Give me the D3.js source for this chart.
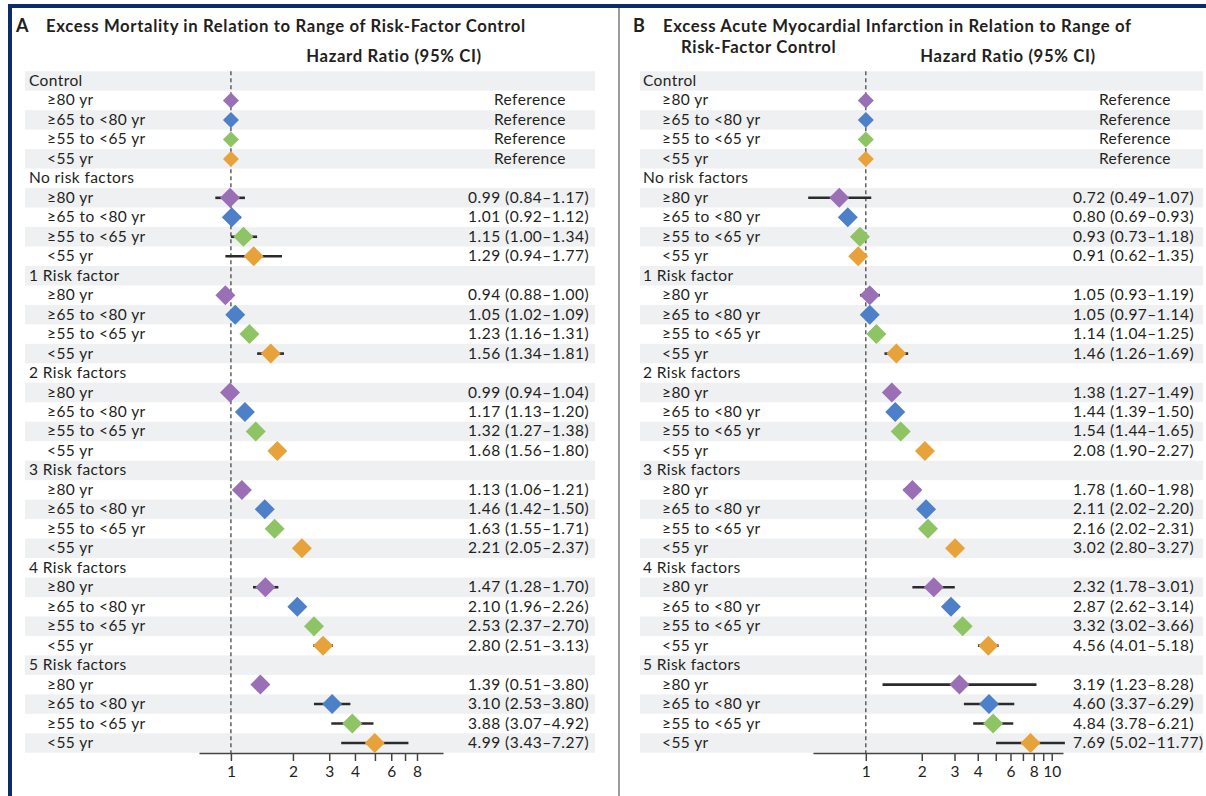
<!DOCTYPE html>
<html>
<head>
<meta charset="utf-8">
<script src="https://cdn.jsdelivr.net/npm/d3@7"></script>
<style>
  body { margin: 0; background: #fff; }
  svg { display: block; font-family: Lato, 'Noto Sans', sans-serif; }
</style>
</head>
<body>
<svg id="chart" width="1206" height="796"></svg>
<script>
// Data
const riskGroups = ['Control', 'No risk factors', '1 Risk factor', '2 Risk factors',
  '3 Risk factors', '4 Risk factors', '5 Risk factors'];
const ageGroups = ['≥80 yr', '≥65 to <80 yr', '≥55 to <65 yr', '<55 yr'];
const ageColors = ['#9b6fb6', '#4d80c8', '#8ec463', '#e8a23a'];

// panel A, hazard ratios per risk group (control = reference)
const mortalityHR = [null,
  [0.99, 1.01, 1.15, 1.29], [0.94, 1.05, 1.23, 1.56], [0.99, 1.17, 1.32, 1.68],
  [1.13, 1.46, 1.63, 2.21], [1.47, 2.10, 2.53, 2.80], [1.39, 3.10, 3.88, 4.99]];
const mortalityLo = [null,
  [0.84, 0.92, 1.00, 0.94], [0.88, 1.02, 1.16, 1.34], [0.94, 1.13, 1.27, 1.56],
  [1.06, 1.42, 1.55, 2.05], [1.28, 1.96, 2.37, 2.51], [0.51, 2.53, 3.07, 3.43]];
const mortalityHi = [null,
  [1.17, 1.12, 1.34, 1.77], [1.00, 1.09, 1.31, 1.81], [1.04, 1.20, 1.38, 1.80],
  [1.21, 1.50, 1.71, 2.37], [1.70, 2.26, 2.70, 3.13], [3.80, 3.80, 4.92, 7.27]];
// whiskers the original figure leaves out: [risk group, age group]
const mortalityNoWhisker = [[6, 0]];
const mortalityTicks = [1, 2, 3, 4, 5, 6, 7, 8];
const mortalityTickLabels = [1, 2, 3, 4, 6, 8];

// panel B
const miHR = [null,
  [0.72, 0.80, 0.93, 0.91], [1.05, 1.05, 1.14, 1.46], [1.38, 1.44, 1.54, 2.08],
  [1.78, 2.11, 2.16, 3.02], [2.32, 2.87, 3.32, 4.56], [3.19, 4.60, 4.84, 7.69]];
const miLo = [null,
  [0.49, 0.69, 0.73, 0.62], [0.93, 0.97, 1.04, 1.26], [1.27, 1.39, 1.44, 1.90],
  [1.60, 2.02, 2.02, 2.80], [1.78, 2.62, 3.02, 4.01], [1.23, 3.37, 3.78, 5.02]];
const miHi = [null,
  [1.07, 0.93, 1.18, 1.35], [1.19, 1.14, 1.25, 1.69], [1.49, 1.50, 1.65, 2.27],
  [1.98, 2.20, 2.31, 3.27], [3.01, 3.14, 3.66, 5.18], [8.28, 6.29, 6.21, 11.77]];
const miNoWhisker = [[1, 1], [1, 2], [1, 3]];
const miTicks = [1, 2, 3, 4, 5, 6, 7, 8, 9, 10];
const miTickLabels = [1, 2, 3, 4, 6, 8, 10];

const svg = d3.select('#chart');
const textColor = '#231f20';

// frame
svg.append('rect').attr('x', 8).attr('y', 4).attr('width', 1198).attr('height', 4).attr('fill', '#0d2a6b');
svg.append('rect').attr('x', 8).attr('y', 4).attr('width', 4).attr('height', 792).attr('fill', '#0d2a6b');
svg.append('rect').attr('x', 618).attr('y', 8).attr('width', 2).attr('height', 788).attr('fill', '#9a9a9a');

const rowY = d3.scalePoint().domain(d3.range(35)).range([81, 743]);
const rowH = rowY.step();

const drawPanel = p => {
  const g = svg.append('g');

  // title
  g.append('text')
    .attr('x', p.letterX).attr('y', 32)
    .attr('font-size', 18).attr('font-weight', 700).attr('fill', textColor)
    .text(p.letter);
  p.title.forEach((t, i) => {
    g.append('text')
      .attr('x', p.titleX[i]).attr('y', 32 + i * 21)
      .attr('font-size', 16.7).attr('font-weight', 700)
      .attr('letter-spacing', 0.64).attr('fill', textColor)
      .text(t);
  });
  g.append('text')
    .attr('x', p.hrTitleX).attr('y', 62)
    .attr('text-anchor', 'middle')
    .attr('font-size', 16.7).attr('font-weight', 700)
    .attr('letter-spacing', 0.64).attr('fill', textColor)
    .text('Hazard Ratio (95% CI)');

  // rows
  const rows = [];
  riskGroups.forEach((rg, gi) => {
    rows.push({ label: rg, header: true });
    ageGroups.forEach((ag, ai) => {
      const hr = p.hr[gi];
      rows.push({
        label: ag, header: false, age: ai,
        hr: hr ? hr[ai] : 1,
        lo: hr ? p.lo[gi][ai] : null,
        hi: hr ? p.hi[gi][ai] : null,
        ref: !hr,
        whisker: hr && !p.noWhisker.some(d => d[0] === gi && d[1] === ai)
      });
    });
  });

  g.selectAll('.band')
    .data(rows.filter((d, i) => i % 2 === 0).map((d, i) => i * 2))
    .enter()
    .append('rect')
    .attr('x', p.bandX[0])
    .attr('width', p.bandX[1] - p.bandX[0])
    .attr('y', i => rowY(i) - rowH / 2)
    .attr('height', rowH)
    .attr('fill', '#eff0f2');

  const x = d3.scaleLog().domain(p.domain).range(p.range);
  const axisY = 753;

  g.append('line')
    .attr('x1', x(1)).attr('x2', x(1))
    .attr('y1', rowY(0) - rowH / 2).attr('y2', axisY)
    .attr('stroke', '#555').attr('stroke-width', 1.4)
    .attr('stroke-dasharray', '4,3');

  const axis = d3.axisBottom(x)
    .tickValues(p.ticks)
    .tickFormat(d => (p.tickLabels.includes(d) ? d : ''))
    .tickSize(8)
    .tickSizeOuter(0)
    .tickPadding(5);

  const ax = g.append('g')
    .attr('transform', `translate(0,${axisY})`)
    .call(axis);
  ax.select('.domain').attr('stroke', '#444').attr('stroke-width', 1.5);
  ax.selectAll('.tick line').attr('stroke', '#444').attr('stroke-width', 1.5);
  ax.selectAll('.tick text')
    .attr('font-size', 15.5).attr('fill', textColor)
    .attr('font-family', 'Lato, sans-serif');

  rows.forEach((d, i) => {
    const y = rowY(i);
    g.append('text')
      .attr('x', d.header ? p.headerX : p.ageX)
      .attr('y', y + 5)
      .attr('font-size', 15.5).attr('letter-spacing', 0.4).attr('fill', textColor)
      .text(d.label);
    if (d.header) return;

    if (d.whisker) {
      g.append('line')
        .attr('x1', x(d.lo)).attr('x2', x(d.hi))
        .attr('y1', y).attr('y2', y)
        .attr('stroke', '#2b2b2b').attr('stroke-width', 2.6);
    }
    const hw = d.ref ? 8 : 10;
    const cx = x(d.hr);
    g.append('path')
      .attr('d', `M${cx},${y - hw}L${cx + hw},${y}L${cx},${y + hw}L${cx - hw},${y}Z`)
      .attr('fill', ageColors[d.age]);

    g.append('text')
      .attr('x', d.ref ? p.valueX + 26 : p.valueX)
      .attr('y', y + 5)
      .attr('font-size', 15.5)
      .attr('letter-spacing', d.ref ? 0.4 : 0.5)
      .attr('fill', textColor)
      .text(d.ref ? 'Reference'
        : `${d.hr.toFixed(2)} (${d.lo.toFixed(2)}–${d.hi.toFixed(2)})`);
  });
};

drawPanel({
  letter: 'A', letterX: 16,
  title: ['Excess Mortality in Relation to Range of Risk-Factor Control'],
  titleX: [46],
  hrTitleX: 394,
  hr: mortalityHR, lo: mortalityLo, hi: mortalityHi, noWhisker: mortalityNoWhisker,
  ticks: mortalityTicks, tickLabels: mortalityTickLabels,
  domain: [0.7, 10.7], range: [199, 443],
  bandX: [25, 595], headerX: 29, ageX: 47, valueX: 468
});

drawPanel({
  letter: 'B', letterX: 633,
  title: ['Excess Acute Myocardial Infarction in Relation to Range of', 'Risk-Factor Control'],
  titleX: [663, 681],
  hrTitleX: 1008,
  hr: miHR, lo: miLo, hi: miHi, noWhisker: miNoWhisker,
  ticks: miTicks, tickLabels: miTickLabels,
  domain: [0.52, 11.5], range: [813, 1063],
  bandX: [640, 1203], headerX: 643, ageX: 662, valueX: 1073
});
</script>
</body>
</html>
